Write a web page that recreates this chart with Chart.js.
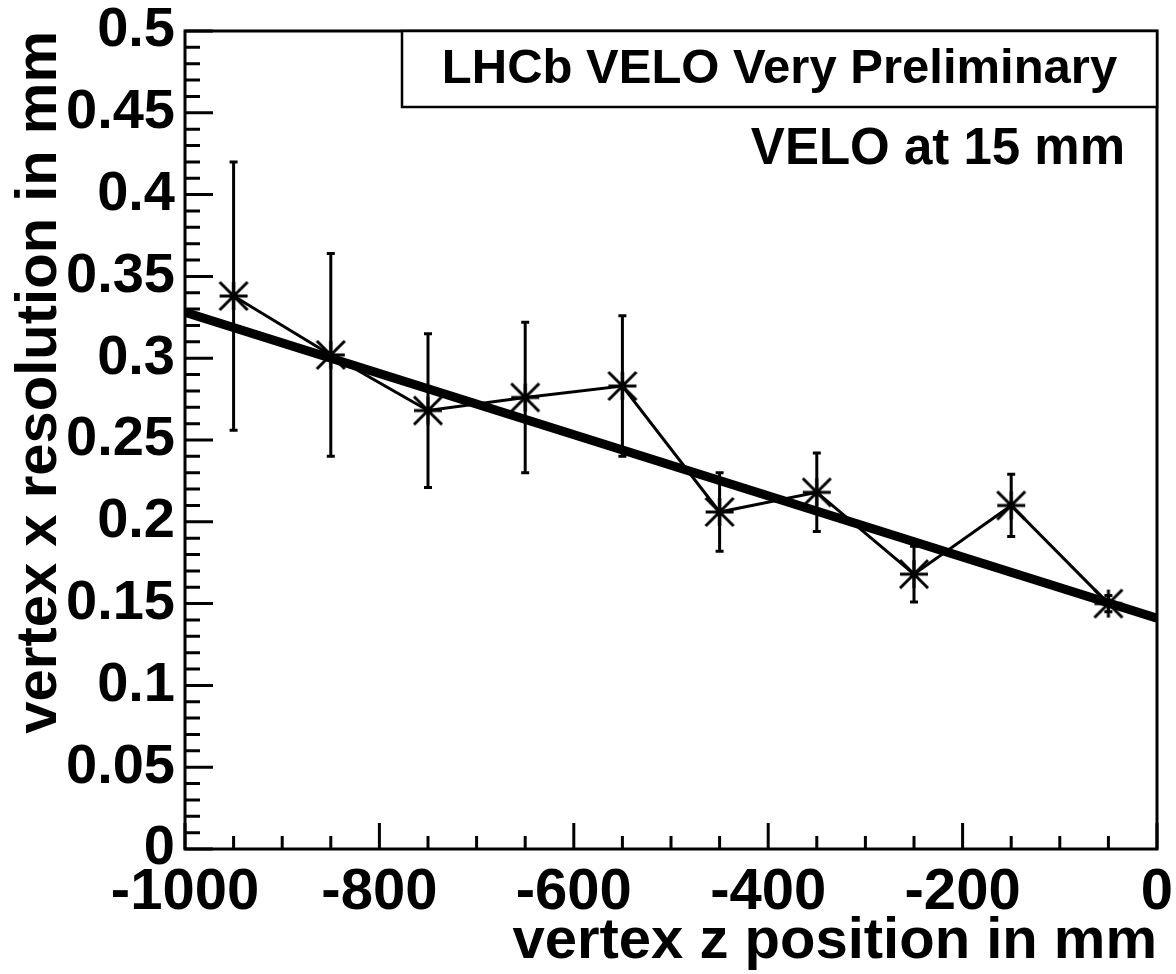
<!DOCTYPE html>
<html>
<head>
<meta charset="utf-8">
<script src="https://cdn.jsdelivr.net/npm/chart.js@4.4.1/dist/chart.umd.min.js"></script>
<style>
  body { margin: 0; background: #fff; }
  #wrap { width: 1176px; height: 974px; position: relative; }
</style>
</head>
<body>
<div id="wrap"><canvas id="velo_res"></canvas></div>
<script>
const zPos = [-950, -850, -750, -650, -550, -450, -350, -250, -150, -50]
const resolution = [0.338, 0.302, 0.268, 0.276, 0.283, 0.206, 0.218, 0.168, 0.210, 0.150]
const resError = [0.082, 0.062, 0.047, 0.046, 0.043, 0.024, 0.024, 0.017, 0.019, 0.005]

// straight line fit, evaluated at the ends of the range
const fitZ = [-1000, 0]
const fitRes = [0.328, 0.141]

const FONT = '"Liberation Sans", Arial, Helvetica, sans-serif'

// ROOT style asterisk marker
function makeStar(r) {
  const c = document.createElement('canvas')
  const s = 2 * r + 4
  c.width = s
  c.height = s
  const g = c.getContext('2d')
  const m = s / 2
  g.strokeStyle = '#000'
  g.lineWidth = 3
  g.beginPath()
  g.moveTo(m - r, m); g.lineTo(m + r, m)
  g.moveTo(m, m - r); g.lineTo(m, m + r)
  g.moveTo(m - r, m - r); g.lineTo(m + r, m + r)
  g.moveTo(m - r, m + r); g.lineTo(m + r, m - r)
  g.stroke()
  return c
}

const errorBars = {
  id: 'errorBars',
  afterDatasetsDraw(chart) {
    const ctx = chart.ctx
    const xs = chart.scales.x, ys = chart.scales.y
    ctx.save()
    ctx.strokeStyle = '#000'
    ctx.lineWidth = 3
    zPos.forEach((z, i) => {
      const px = xs.getPixelForValue(z)
      const top = ys.getPixelForValue(resolution[i] + resError[i])
      const bot = ys.getPixelForValue(resolution[i] - resError[i])
      ctx.beginPath()
      ctx.moveTo(px, top); ctx.lineTo(px, bot)
      ctx.moveTo(px - 4, top); ctx.lineTo(px + 4, top)
      ctx.moveTo(px - 4, bot); ctx.lineTo(px + 4, bot)
      ctx.stroke()
    })
    ctx.restore()
  }
}

const frame = {
  id: 'frame',
  afterDraw(chart) {
    const ctx = chart.ctx
    const a = chart.chartArea
    const xs = chart.scales.x, ys = chart.scales.y
    ctx.save()
    ctx.strokeStyle = '#000'
    ctx.lineWidth = 3
    ctx.strokeRect(a.left, a.top, a.right - a.left, a.bottom - a.top)

    // inward ticks
    ctx.beginPath()
    for (let k = 0; k <= 50; k++) {
      const py = ys.getPixelForValue(k * 0.01)
      const len = k % 5 === 0 ? 28 : 15
      ctx.moveTo(a.left, py); ctx.lineTo(a.left + len, py)
    }
    for (let k = 0; k <= 20; k++) {
      const px = xs.getPixelForValue(-1000 + k * 50)
      const len = k % 4 === 0 ? 26 : 13
      ctx.moveTo(px, a.bottom); ctx.lineTo(px, a.bottom - len)
    }
    ctx.stroke()

    // label box
    const bx = a.left + 217, by = a.top, bw = a.right - bx, bh = 76
    ctx.lineWidth = 2.5
    ctx.fillStyle = '#fff'
    ctx.fillRect(bx, by, bw, bh)
    ctx.strokeRect(bx, by, bw, bh)
    ctx.fillStyle = '#000'
    ctx.font = 'bold 49px ' + FONT
    ctx.textAlign = 'center'
    ctx.textBaseline = 'alphabetic'
    ctx.fillText('LHCb VELO Very Preliminary', bx + bw / 2, by + 52)
    ctx.font = 'bold 51px ' + FONT
    ctx.textAlign = 'right'
    ctx.fillText('VELO at 15 mm', a.right - 32, a.top + 133)
    ctx.restore()
  }
}

const ctx = document.getElementById('velo_res').getContext('2d')

new Chart(ctx, {
  type: 'scatter',
  data: {
    datasets: [
      {
        label: 'fit',
        data: fitZ.map((z, i) => ({ x: z, y: fitRes[i] })),
        showLine: true,
        borderColor: '#000',
        borderWidth: 9,
        pointRadius: 0,
        order: 2
      },
      {
        label: 'resolution',
        data: zPos.map((z, i) => ({ x: z, y: resolution[i] })),
        showLine: true,
        borderColor: '#000',
        borderWidth: 3,
        pointStyle: makeStar(14),
        pointRadius: 14,
        order: 1
      }
    ]
  },
  options: {
    responsive: true,
    maintainAspectRatio: false,
    animation: false,
    layout: { padding: { top: 31, right: 19, left: 0, bottom: 0 } },
    scales: {
      x: {
        type: 'linear',
        min: -1000,
        max: 0,
        afterFit(s) {
          s.height = 125
          s.paddingLeft = 0
          s.paddingRight = 0
        },
        grid: { display: false, drawTicks: false },
        border: { display: false },
        ticks: {
          stepSize: 200,
          padding: 15,
          color: '#000',
          maxRotation: 0,
          font: { family: FONT, size: 58, weight: 'bold', lineHeight: 1 },
          callback: v => String(v)
        },
        title: {
          display: true,
          text: 'vertex z position in mm',
          align: 'end',
          color: '#000',
          padding: { top: 0, bottom: 3 },
          font: { family: FONT, size: 58, weight: 'bold', lineHeight: 1 }
        }
      },
      y: {
        min: 0,
        max: 0.5,
        afterFit(s) {
          s.width = 185
          s.paddingTop = 0
          s.paddingBottom = 0
        },
        grid: { display: false, drawTicks: false },
        border: { display: false },
        ticks: {
          stepSize: 0.05,
          padding: 10,
          color: '#000',
          font: { family: FONT, size: 56, weight: 'bold', lineHeight: 1 },
          callback: v => String(parseFloat(v.toFixed(2)))
        },
        title: {
          display: true,
          text: 'vertex x resolution in mm',
          align: 'end',
          color: '#000',
          padding: { top: 11, bottom: 0 },
          font: { family: FONT, size: 58, weight: 'bold', lineHeight: 1 }
        }
      }
    },
    plugins: {
      legend: { display: false },
      tooltip: { enabled: false }
    }
  },
  plugins: [errorBars, frame]
})
</script>
</body>
</html>
